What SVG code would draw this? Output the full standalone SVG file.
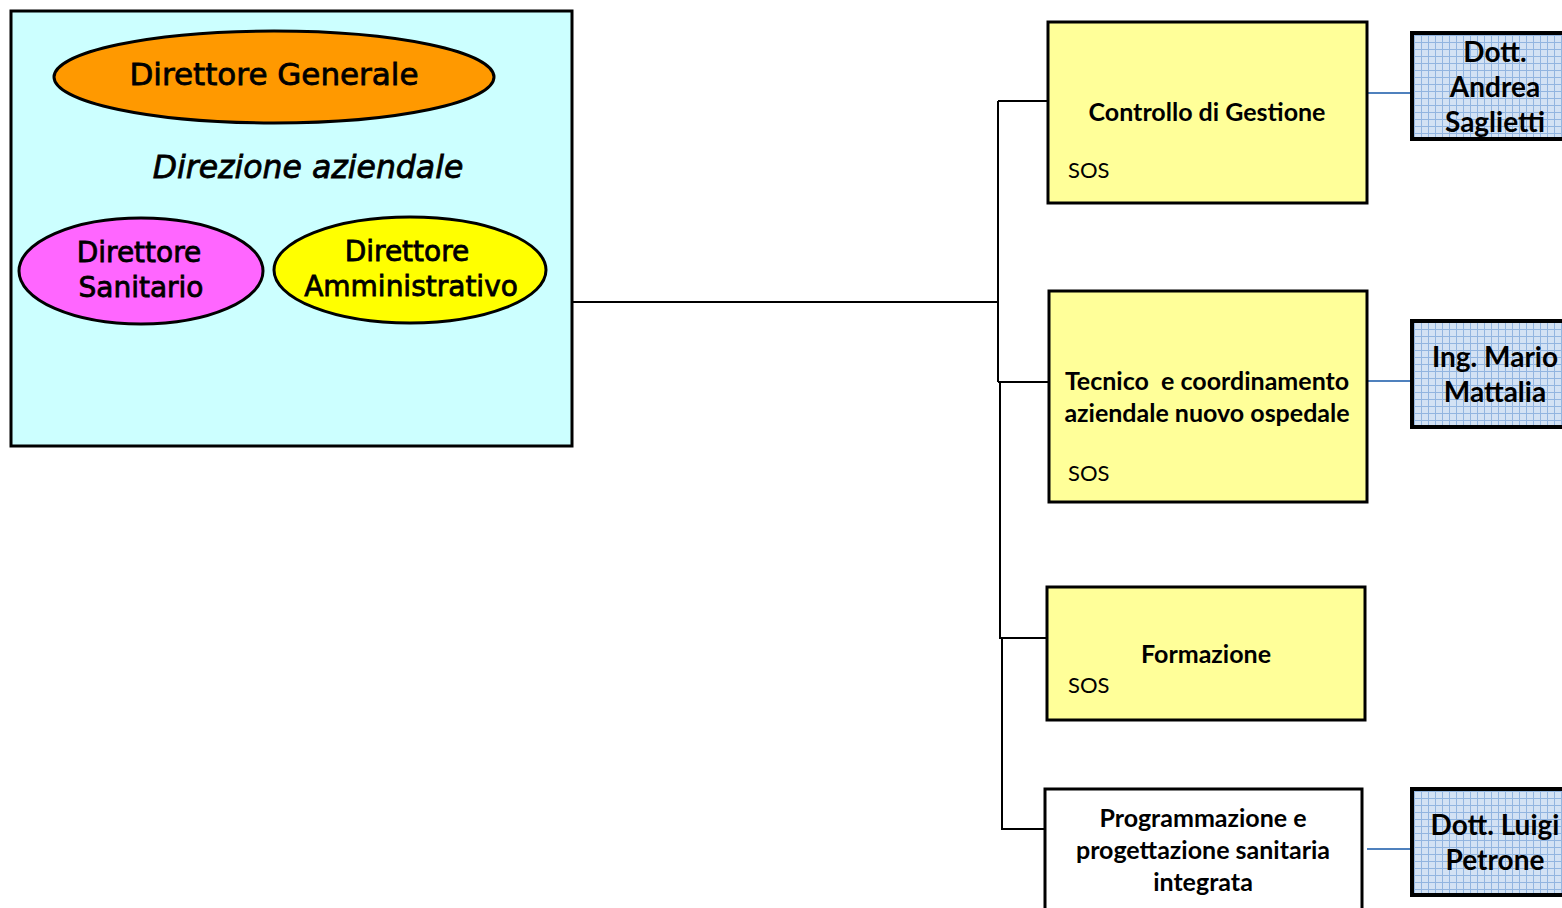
<svg xmlns="http://www.w3.org/2000/svg" width="1562" height="908" viewBox="0 0 1562 908">
<style>
.el{stroke:#000;stroke-width:3}
.dt{font-family:"DejaVu Sans",Verdana,sans-serif;fill:#000;stroke:#000;stroke-width:0.8;text-anchor:middle}
.box{fill:#FFFF99;stroke:#000;stroke-width:3}
.bt{font-family:Lato,"Open Sans",sans-serif;font-weight:bold;font-size:25px;text-anchor:middle;fill:#000}
.sos{font-family:Lato,"Open Sans",sans-serif;font-size:22px;fill:#000}
.pb{fill:url(#grid);stroke:#000;stroke-width:4}
.pt{font-family:Lato,"Open Sans",sans-serif;font-weight:bold;font-size:28px;text-anchor:middle;fill:#000}
.con{fill:none;stroke:#000;stroke-width:2}
.blue{fill:none;stroke:#4F81BD;stroke-width:2}
</style>
<defs>
<pattern id="grid" width="7" height="7" patternUnits="userSpaceOnUse">
<rect width="7" height="7" fill="#D3E2F4"/>
<path d="M0 0.5H7M0.5 0V7" stroke="#92B5E0" stroke-width="1"/>
</pattern>
</defs>
<rect width="1562" height="908" fill="#fff"/>
<g id="connectors">
<path class="con" d="M572 302H998M998 101V382M998 101H1047M998 382H1049M1000 382V638H1047M1002 638V829H1045"/>
<path class="blue" d="M1367 93H1411M1367 381H1411M1367 849H1411"/>
</g>
<g id="direzione">
<rect x="11" y="11" width="561" height="435" fill="#CCFFFF" stroke="#000" stroke-width="3"/>
<text class="dt" x="308" y="178" font-size="31.5" font-style="italic">Direzione aziendale</text>
</g>
<g id="direttore-generale">
<ellipse class="el" cx="274" cy="77" rx="220" ry="46" fill="#FF9900"/>
<text class="dt" x="274" y="85" font-size="31">Direttore Generale</text>
</g>
<g id="direttore-sanitario">
<ellipse class="el" cx="141" cy="271" rx="122" ry="53" fill="#FF66FF"/>
<text class="dt" x="139" y="262" font-size="28">Direttore</text>
<text class="dt" x="141" y="297" font-size="28">Sanitario</text>
</g>
<g id="direttore-amministrativo">
<ellipse class="el" cx="410" cy="270" rx="136" ry="53" fill="#FFFF00"/>
<text class="dt" x="407" y="261" font-size="28">Direttore</text>
<text class="dt" x="411" y="296" font-size="28">Amministrativo</text>
</g>
<g id="controllo">
<rect class="box" x="1048" y="22" width="319" height="181"/>
<text class="bt" x="1207" y="121">Controllo di Gestione</text>
<text class="sos" x="1068" y="178">SOS</text>
</g>
<g id="tecnico">
<rect class="box" x="1049" y="291" width="318" height="211"/>
<text class="bt" x="1207" y="390" xml:space="preserve">Tecnico  e coordinamento</text>
<text class="bt" x="1207" y="422">aziendale nuovo ospedale</text>
<text class="sos" x="1068" y="481">SOS</text>
</g>
<g id="formazione">
<rect class="box" x="1047" y="587" width="318" height="133"/>
<text class="bt" x="1206" y="663">Formazione</text>
<text class="sos" x="1068" y="693">SOS</text>
</g>
<g id="programmazione">
<rect x="1045" y="789" width="317" height="130" fill="#fff" stroke="#000" stroke-width="3"/>
<text class="bt" x="1203" y="827">Programmazione e</text>
<text class="bt" x="1203" y="859">progettazione sanitaria</text>
<text class="bt" x="1203" y="891">integrata</text>
</g>
<g id="saglietti">
<rect class="pb" x="1412" y="33" width="160" height="106"/>
<text class="pt" x="1495" y="62">Dott.</text>
<text class="pt" x="1495" y="97">Andrea</text>
<text class="pt" x="1495" y="132">Saglietti</text>
</g>
<g id="mattalia">
<rect class="pb" x="1412" y="321" width="160" height="106"/>
<text class="pt" x="1495" y="367">Ing. Mario</text>
<text class="pt" x="1495" y="402">Mattalia</text>
</g>
<g id="petrone">
<rect class="pb" x="1412" y="789" width="160" height="106"/>
<text class="pt" x="1495" y="835">Dott. Luigi</text>
<text class="pt" x="1495" y="870">Petrone</text>
</g>
</svg>
